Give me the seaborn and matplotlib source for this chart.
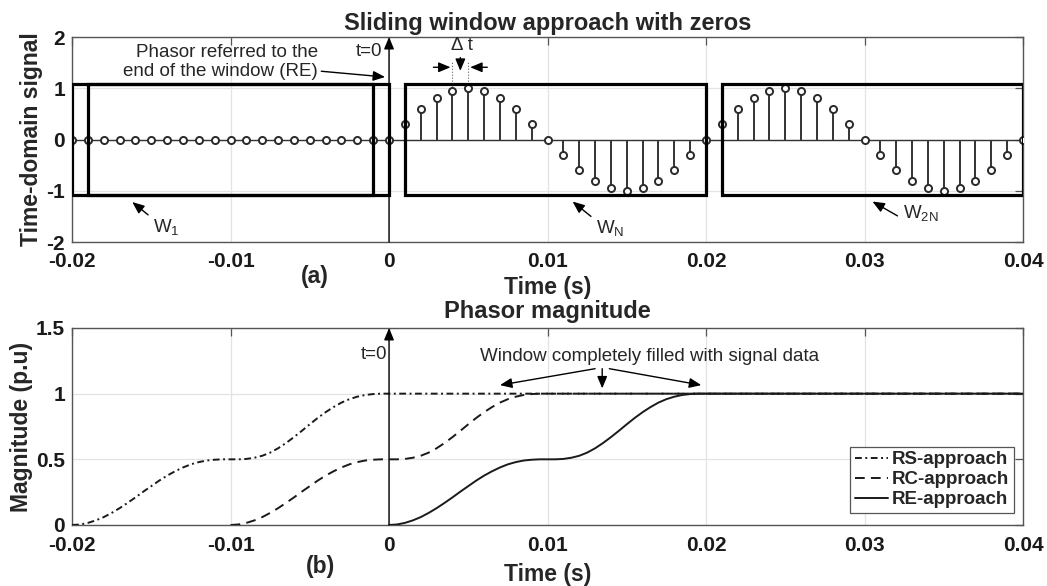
import numpy as np
import pandas as pd
import seaborn as sns
import matplotlib
matplotlib.use('Agg')
import matplotlib.pyplot as plt
from matplotlib.patches import Rectangle


# %% ---- data ------------------------
sample_step = 0.001
zero_samples = [0.0] * 20  # t = -0.020 ... -0.001, window filled with zeros
one_cycle = [0.0, 0.31, 0.59, 0.81, 0.95, 1.0, 0.95, 0.81, 0.59, 0.31,
             0.0, -0.31, -0.59, -0.81, -0.95, -1.0, -0.95, -0.81, -0.59, -0.31]
last_sample = [0.0]
signal_values = zero_samples + one_cycle + one_cycle + last_sample
sample_times = np.round(np.arange(-20, 41) * sample_step, 3)

window_starts = [-0.020, -0.019, 0.001, 0.021]
window_ends = [0.000, -0.001, 0.020, 0.040]
window_low, window_high = -1.08, 1.09

# phasor magnitude while the window fills up (read every 0.5 ms)
rise_step = 0.0005
rise_profile = [0.000, 0.004, 0.016, 0.035, 0.060, 0.092, 0.128, 0.168, 0.210, 0.254,
                0.296, 0.338, 0.376, 0.409, 0.438, 0.462, 0.479, 0.491, 0.497, 0.500,
                0.500, 0.500, 0.503, 0.512, 0.527, 0.551, 0.584, 0.624, 0.669, 0.717,
                0.767, 0.815, 0.859, 0.898, 0.932, 0.958, 0.977, 0.990, 0.997, 1.000,
                1.000]
approaches = ['RS-approach', 'RC-approach', 'RE-approach']
rise_starts = [-0.020, -0.010, 0.000]
t_end = 0.04

x_ticks = [-0.02, -0.01, 0, 0.01, 0.02, 0.03, 0.04]
x_ticklabels = ['-0.02', '-0.01', '0', '0.01', '0.02', '0.03', '0.04']
y_ticks_a = [-2, -1, 0, 1, 2]
y_ticks_b = [0, 0.5, 1, 1.5]
y_ticklabels_b = ['0', '0.5', '1', '1.5']


# %% ---- build frame ------------------------
rows = []
for name, start in zip(approaches, rise_starts):
    for k, v in enumerate(rise_profile):
        rows.append(dict(t=start + k * rise_step, mag=v, approach=name))
    rows.append(dict(t=t_end, mag=1.0, approach=name))
df_mag = pd.DataFrame(rows)


# %% ---- style ------------------------
sns.set_theme(style='white')
plt.rcParams['font.family'] = ['Liberation Sans', 'DejaVu Sans']
plt.rcParams['mathtext.default'] = 'regular'

ink = '#1a1a1a'
frame = '#555555'
tick_fs = 15
label_fs = 16.5
title_fs = 17
note_fs = 13.5

fig = plt.figure(figsize=(10.47, 5.86), dpi=100)
ax_a = fig.add_axes([0.0688, 0.587, 0.9083, 0.3498])
ax_b = fig.add_axes([0.0688, 0.1041, 0.9083, 0.3362])


def style_axes(ax, xpad):
    ax.set_xlim(-0.02, 0.04)
    ax.set_xticks(x_ticks)
    ax.set_xticklabels(x_ticklabels, fontweight='bold')
    ax.grid(True, color='#e3e3e3', lw=0.9)
    ax.set_axisbelow(True)
    ax.tick_params(direction='in', length=5.5, width=0.9, top=True, right=True,
                   color=frame, labelcolor=ink, labelsize=tick_fs, pad=5)
    ax.tick_params(axis='x', pad=xpad)
    for sp in ax.spines.values():
        sp.set_color(frame)
        sp.set_linewidth(1.0)
        sp.set_visible(True)


# %% ---- (a) sliding window ------------------------
ax = ax_a
ax.axhline(0, color='#333333', lw=1.0, zorder=2)
ax.vlines(sample_times, 0, signal_values, color='#333333', lw=1.4, zorder=2)
sns.scatterplot(x=sample_times, y=signal_values, ax=ax, marker='o', s=26,
                facecolor='white', edgecolor='#2a2a2a', linewidth=1.4, zorder=3)
for x0, x1 in zip(window_starts, window_ends):
    ax.add_patch(Rectangle((x0, window_low), x1 - x0, window_high - window_low,
                           fill=False, ec='black', lw=2.3, zorder=4))
style_axes(ax, 7)
ax.set_ylim(-2, 2)
ax.set_yticks(y_ticks_a)
ax.set_yticklabels([str(v) for v in y_ticks_a], fontweight='bold')
ax.set_title('Sliding window approach with zeros', fontsize=title_fs,
             fontweight='bold', pad=5)
ax.set_ylabel('Time-domain signal', fontsize=label_fs, fontweight='bold')
ax.yaxis.set_label_coords(-0.031, 0.5)
ax.set_xlabel('Time (s)', fontsize=label_fs, fontweight='bold')
ax.xaxis.set_label_coords(0.5, -0.168)
ax.text(0.2555, -0.168, '(a)', transform=ax.transAxes, ha='center', va='center',
        fontsize=label_fs, fontweight='bold')

arrow = dict(arrowstyle='-|>,head_length=0.6,head_width=0.25', color='black',
             lw=1.0, shrinkA=0, shrinkB=0, mutation_scale=12)
ax.annotate('', xy=(0, 2), xytext=(0, -2), arrowprops=arrow, zorder=5,
            annotation_clip=False)
ax.text(-0.0004, 1.71, 't=0', ha='right', va='center', fontsize=note_fs)
ax.annotate('Phasor referred to the\nend of the window (RE)', xy=(-0.00025, 1.22),
            xytext=(-0.00448, 1.51), ha='right', va='center', multialignment='right',
            fontsize=note_fs, linespacing=1.2, arrowprops=arrow)
# delta t marker
ax.vlines([0.004, 0.005], [0.97, 1.02], 1.52, colors='#666666', lw=0.8,
          linestyles=':', zorder=2)
ax.annotate('', xy=(0.00388, 1.41), xytext=(0.0028, 1.41), arrowprops=arrow)
ax.annotate('', xy=(0.00512, 1.41), xytext=(0.0062, 1.41), arrowprops=arrow)
ax.annotate('', xy=(0.0045, 1.34), xytext=(0.0045, 1.6), arrowprops=arrow)
ax.text(0.0046, 1.84, 'Δ t', ha='center', va='center', fontsize=note_fs)
# window labels
for head, tail, txt, pos in [((-0.0162, -1.22), (-0.0152, -1.47), '$W_1$', (-0.0149, -1.71)),
                             ((0.01158, -1.21), (0.01274, -1.5), '$W_N$', (0.01305, -1.73)),
                             ((0.0305, -1.21), (0.03208, -1.49), '$W_{2N}$', (0.0324, -1.43))]:
    ax.annotate('', xy=head, xytext=tail, arrowprops=arrow)
    ax.text(pos[0], pos[1], txt, ha='left', va='center', fontsize=note_fs)


# %% ---- (b) phasor magnitude ------------------------
ax = ax_b
dash_map = {'RS-approach': (3.5, 1.8, 1, 1.8), 'RC-approach': (5, 3.2), 'RE-approach': ''}
sns.lineplot(df_mag, x='t', y='mag', style='approach', dashes=dash_map,
             color=ink, lw=1.4, errorbar=None, ax=ax, zorder=3)
style_axes(ax, 8)
ax.set_ylim(0, 1.5)
ax.set_yticks(y_ticks_b)
ax.set_yticklabels(y_ticklabels_b, fontweight='bold')
ax.set_title('Phasor magnitude', fontsize=title_fs, fontweight='bold', pad=7)
ax.set_ylabel('Magnitude (p.u)', fontsize=label_fs, fontweight='bold')
ax.yaxis.set_label_coords(-0.041, 0.5)
ax.set_xlabel('Time (s)', fontsize=label_fs, fontweight='bold')
ax.xaxis.set_label_coords(0.5, -0.195)
ax.text(0.261, -0.21, '(b)', transform=ax.transAxes, ha='center', va='center',
        fontsize=label_fs, fontweight='bold')

ax.annotate('', xy=(0, 1.5), xytext=(0, 0), arrowprops=arrow, zorder=5,
            annotation_clip=False)
ax.text(-0.0001, 1.295, 't=0', ha='right', va='center', fontsize=note_fs)
ax.text(0.00574, 1.283, 'Window completely filled with signal data',
        ha='left', va='center', fontsize=note_fs)
ax.annotate('', xy=(0.0070, 1.065), xytext=(0.0130, 1.19), arrowprops=arrow)
ax.annotate('', xy=(0.01345, 1.04), xytext=(0.01345, 1.19), arrowprops=arrow)
ax.annotate('', xy=(0.0197, 1.065), xytext=(0.0139, 1.19), arrowprops=arrow)

handles, labels = ax.get_legend_handles_labels()
leg = ax.legend(handles, labels, loc='lower right', bbox_to_anchor=(0.9905, 0.061),
                borderaxespad=0, fancybox=False, framealpha=1, handlelength=1.8,
                handletextpad=0.2, borderpad=0.25, labelspacing=0.15,
                prop=dict(size=note_fs, weight='bold'))
leg.get_frame().set_edgecolor('#555555')
leg.get_frame().set_linewidth(0.9)

fig.savefig('out.png', dpi=100)
